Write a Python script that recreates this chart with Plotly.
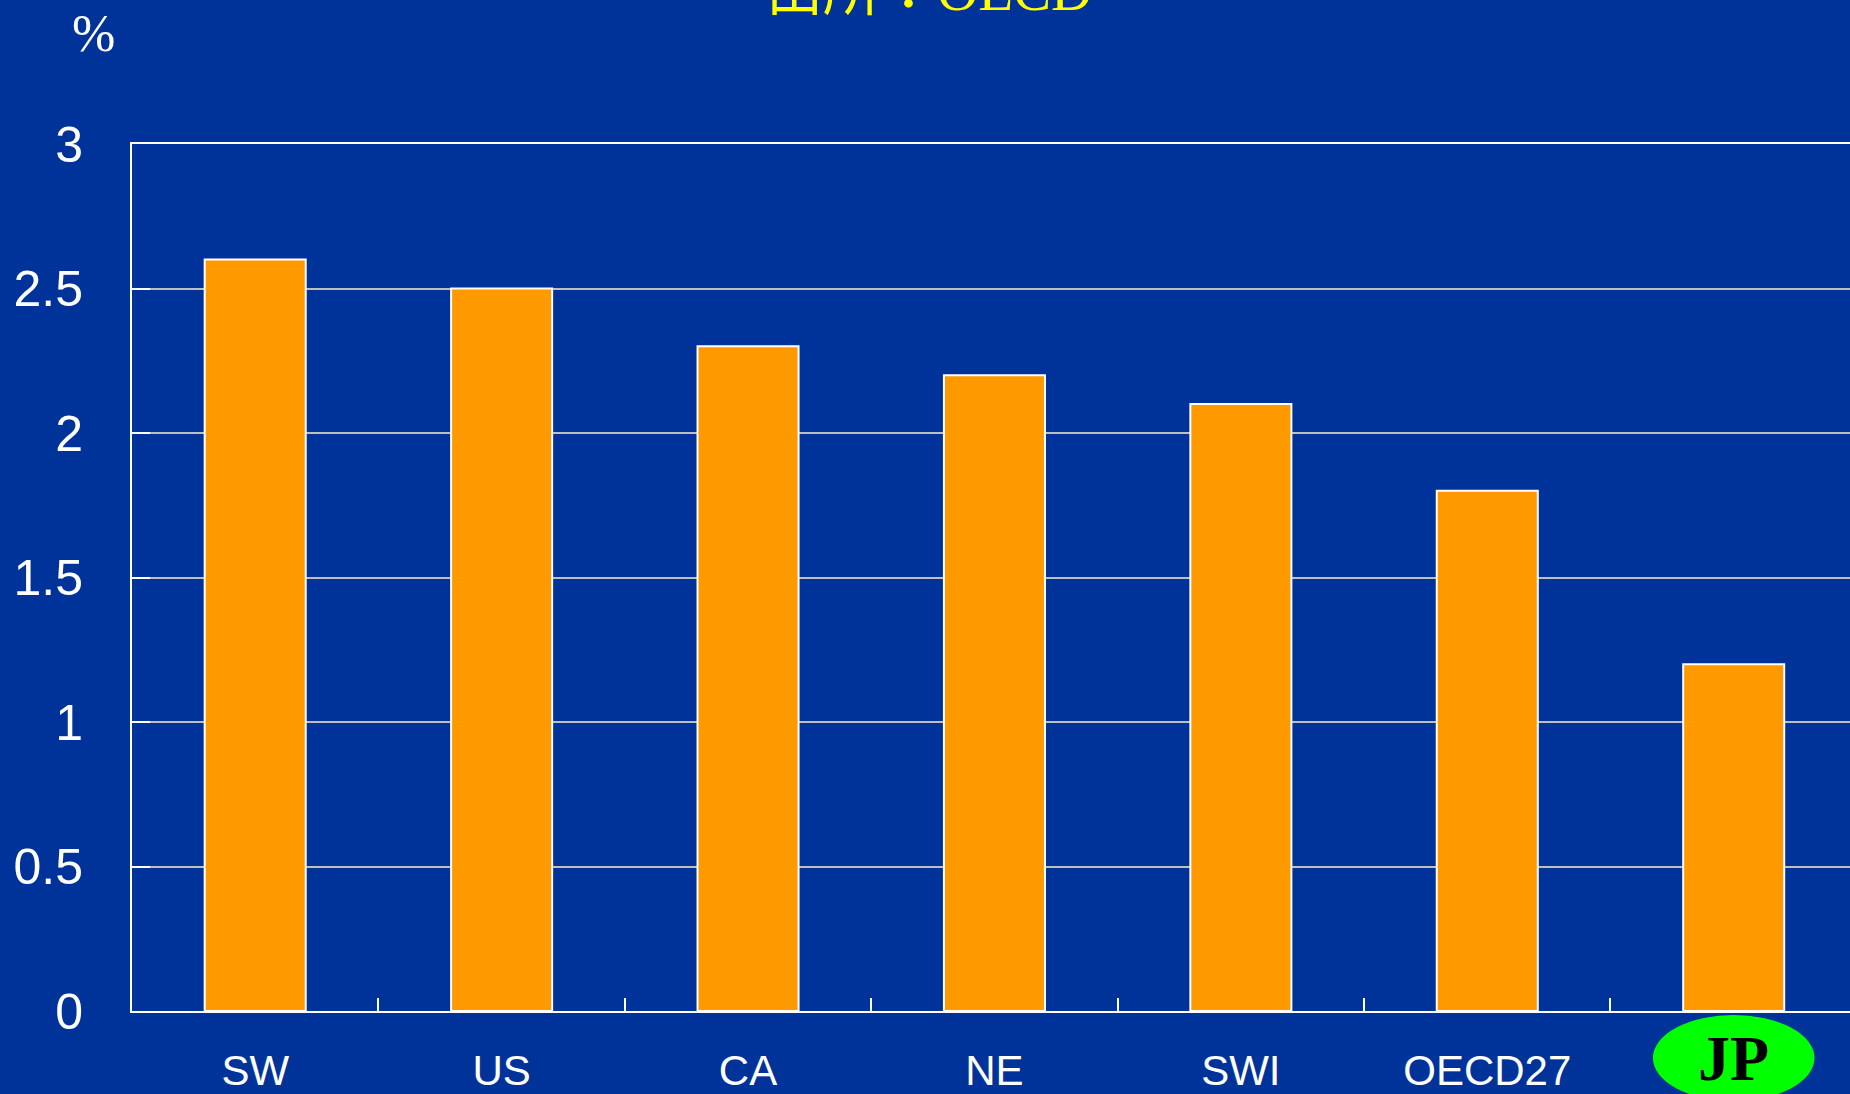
import plotly.graph_objects as go

categories = ["SW", "US", "CA", "NE", "SWI", "OECD27", "JP"]
values = [2.6, 2.5, 2.3, 2.2, 2.1, 1.8, 1.2]
tick_labels = ["SW", "US", "CA", "NE", "SWI", "OECD27", ""]
highlight_label = "JP"
title_text = "出所：OECD"
unit_text = "%"
y_ticks = [0, 0.5, 1, 1.5, 2, 2.5, 3]
y_tick_labels = ["0", "0.5", "1", "1.5", "2", "2.5", "3"]

BG = "#003399"
W, H = 1850, 1094
ML, MR, MT, MB = 132, 0, 144, 83
PW, PH = W - ML - MR, H - MT - MB

def py(pix):  # pixel y -> paper y
    return (H - MB - pix) / PH

def px(pix):
    return (pix - ML) / PW

fig = go.Figure()
fig.add_trace(go.Bar(
    x=categories, y=values, width=0.41,
    marker=dict(color="#FF9900", line=dict(color="white", width=2)),
    hoverinfo="x+y",
))

fig.update_layout(
    width=W, height=H, autosize=False,
    margin=dict(l=ML, r=MR, t=MT, b=MB, pad=0),
    paper_bgcolor=BG, plot_bgcolor=BG,
    showlegend=False,
    xaxis=dict(
        type="category", range=[-0.5, 6.472], automargin=False,
        tickmode="array", tickvals=categories, ticktext=tick_labels,
        tickson="boundaries", ticks="inside", ticklen=13, tickwidth=1.5, tickcolor="white",
        showgrid=False, showline=True, linecolor="white", linewidth=2, mirror=True,
        tickfont=dict(family="Liberation Sans Narrow, Arial Narrow, Liberation Sans, Arial", size=42, color="white"),
        ticklabelstandoff=22,
    ),
    yaxis=dict(
        range=[0, 3], automargin=False,
        tickmode="array", tickvals=y_ticks, ticktext=y_tick_labels,
        ticks="inside", ticklen=18, tickwidth=2, tickcolor="white",
        showgrid=True, gridcolor="#BFBFBF", gridwidth=2,
        showline=True, linecolor="white", linewidth=2,
        zeroline=False,
        tickfont=dict(family="Liberation Sans, Arial", size=50, color="white"),
        ticklabelstandoff=37,
    ),
)

# highlighted JP label: green ellipse with bold serif text
fig.add_shape(type="circle", xref="x", yref="paper",
              x0=6 - 0.328, x1=6 + 0.328, y0=py(1101), y1=py(1015),
              fillcolor="#00FF00", line=dict(width=0), layer="above")
fig.add_annotation(x=6, y=py(1058), xref="x", yref="paper", text="<b>" + highlight_label + "</b>",
                   showarrow=False, yanchor="middle",
                   font=dict(family="Liberation Serif, Times New Roman, serif", size=64, color="black"))

# title (mostly off the top edge)
fig.add_annotation(x=px(929), y=py(-9), xref="paper", yref="paper", text=title_text,
                   showarrow=False, xanchor="center", yanchor="middle",
                   font=dict(family="Liberation Serif, Noto Sans CJK JP, serif", size=57, color="#FFFF00"))

# unit label
fig.add_annotation(x=px(93), y=py(33), xref="paper", yref="paper", text=unit_text,
                   showarrow=False, xanchor="center", yanchor="middle",
                   font=dict(family="Liberation Serif, Times New Roman, serif", size=52, color="white"))

fig.write_html("out.html")
